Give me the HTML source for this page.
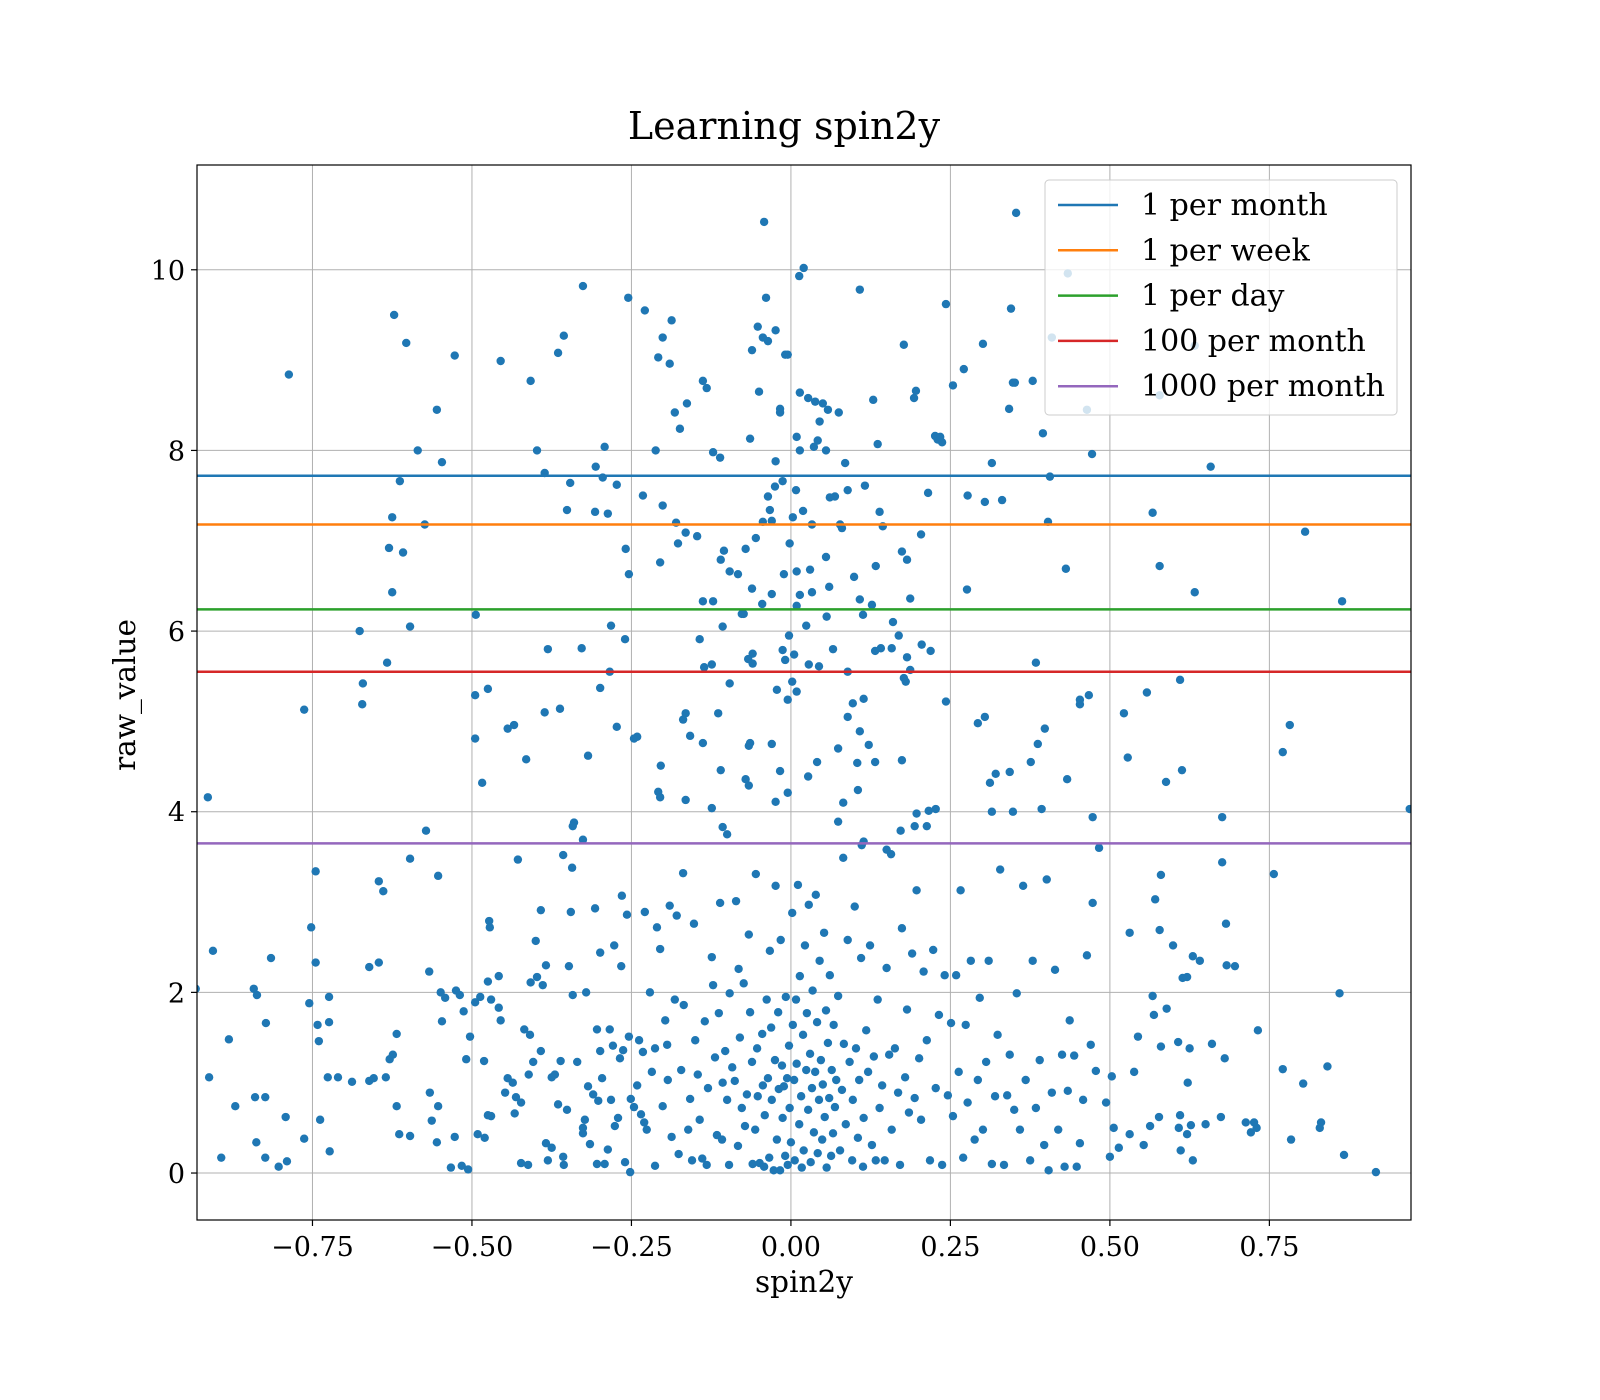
<!DOCTYPE html>
<html><head><meta charset="utf-8"><style>
html,body{margin:0;padding:0;background:#fff;}
svg{display:block;font-family:"DejaVu Serif","Liberation Serif",serif;}
</style></head><body>
<svg id="chart" width="1600" height="1400" viewBox="0 0 1600 1400" xmlns="http://www.w3.org/2000/svg">
<rect width="1600" height="1400" fill="#fff"/>
<text x="784" y="139" font-size="38" text-anchor="middle">Learning spin2y</text>
<g id="grid"></g>
<g id="points"></g>
<g id="hlines"></g>
<rect x="197" y="165" width="1214" height="1055" fill="none" stroke="#000" stroke-width="1.2"/>
<g id="ticks"></g>
<text x="804" y="1292" font-size="29.5" text-anchor="middle">spin2y</text>
<text transform="translate(135,695) rotate(-90)" font-size="29.5" text-anchor="middle">raw_value</text>
<g id="legend"></g>
</svg>
<script>
const xTicks=[-0.75,-0.5,-0.25,0,0.25,0.5,0.75];
const xTickLabels=["\u22120.75","\u22120.50","\u22120.25","0.00","0.25","0.50","0.75"];
const yTicks=[0,2,4,6,8,10];
const yTickLabels=["0","2","4","6","8","10"];
const lineNames=["1 per month","1 per week","1 per day","100 per month","1000 per month"];
const lineValues=[7.72,7.18,6.24,5.55,3.65];
const lineColors=["#1f77b4","#ff7f0e","#2ca02c","#d62728","#9467bd"];
const xVals=[-0.787,-0.914,-0.622,-0.603,-0.527,-0.555,-0.585,-0.547,-0.613,-0.625,-0.574,-0.630,-0.608,-0.625,-0.597,-0.676,-0.633,-0.671,-0.672,-0.763,-0.326,-0.255,-0.229,-0.455,-0.408,-0.356,-0.365,-0.398,-0.386,-0.346,-0.351,-0.494,-0.381,-0.328,-0.284,-0.260,-0.495,-0.475,-0.386,-0.362,-0.444,-0.434,-0.495,-0.415,-0.484,-0.318,-0.340,-0.342,-0.326,-0.306,-0.292,-0.295,-0.273,-0.307,-0.287,-0.259,-0.282,-0.299,-0.254,-0.241,-0.246,-0.273,-0.201,-0.187,-0.208,-0.190,-0.212,-0.232,-0.201,-0.180,-0.177,-0.205,-0.165,-0.174,-0.182,-0.163,-0.138,-0.132,-0.122,-0.111,-0.147,-0.110,-0.105,-0.096,-0.083,-0.071,-0.074,-0.107,-0.122,-0.138,-0.143,-0.136,-0.124,-0.096,-0.114,-0.165,-0.169,-0.158,-0.138,-0.204,-0.208,-0.205,-0.165,-0.124,-0.110,-0.107,-0.100,-0.066,-0.071,-0.066,-0.064,-0.030,-0.017,-0.024,-0.005,-0.060,-0.060,-0.067,-0.013,-0.003,-0.009,0.005,0.002,-0.005,-0.022,0.009,-0.061,-0.077,-0.045,-0.030,-0.011,0.009,0.014,0.009,0.030,0.033,0.024,-0.055,-0.044,-0.030,-0.033,-0.036,-0.025,-0.013,-0.024,0.003,0.008,-0.002,0.019,0.033,-0.064,-0.050,-0.052,-0.044,-0.036,-0.061,-0.024,-0.009,-0.005,-0.039,-0.042,-0.017,-0.017,0.014,0.027,0.038,0.050,0.058,0.075,0.045,0.042,0.009,0.014,0.036,0.055,0.085,0.069,0.061,0.089,0.080,0.077,0.055,0.060,0.056,0.099,0.108,0.127,0.113,0.116,0.139,0.144,0.129,0.136,0.108,0.013,0.020,0.044,0.028,0.089,0.066,0.089,0.097,0.114,0.108,0.104,0.122,0.132,0.074,0.041,0.027,0.082,0.105,0.111,0.114,0.074,0.133,0.141,0.132,0.160,0.169,0.158,0.182,0.187,0.177,0.180,0.205,0.219,0.174,0.150,0.157,0.172,0.194,0.213,0.216,0.227,0.197,0.174,0.182,0.204,0.215,0.187,0.177,0.193,0.196,0.226,0.230,0.237,0.234,0.243,0.254,0.271,0.301,0.315,0.277,0.304,0.331,0.276,0.243,0.304,0.293,0.312,0.321,0.343,0.315,0.348,0.342,0.345,0.351,0.348,0.353,0.379,0.395,0.409,0.406,0.403,0.431,0.384,0.398,0.387,0.376,0.433,0.393,0.453,0.453,0.467,0.464,0.434,0.472,0.473,0.522,0.528,0.558,0.567,0.578,0.578,0.588,0.613,0.610,0.633,0.633,0.658,0.676,0.771,0.782,0.806,0.864,0.970,0.757,
-0.933,-0.906,-0.912,-0.893,-0.881,-0.871,-0.842,-0.837,-0.823,-0.815,-0.840,-0.824,-0.838,-0.824,-0.803,-0.790,-0.792,-0.763,-0.755,-0.752,-0.745,-0.745,-0.742,-0.740,-0.738,-0.724,-0.724,-0.726,-0.723,-0.710,-0.688,-0.661,-0.654,-0.661,-0.646,-0.646,-0.639,-0.635,-0.629,-0.624,-0.618,-0.618,-0.614,-0.597,-0.597,-0.567,-0.566,-0.563,-0.572,-0.553,-0.553,-0.549,-0.547,-0.542,-0.555,-0.533,-0.527,-0.525,-0.519,-0.516,-0.506,-0.513,-0.509,-0.503,-0.495,-0.491,-0.487,-0.481,-0.480,-0.473,-0.472,-0.475,-0.470,-0.470,-0.475,-0.458,-0.458,-0.455,-0.448,-0.444,-0.436,-0.431,-0.428,-0.423,-0.433,-0.423,-0.418,-0.411,-0.409,-0.412,-0.408,-0.404,-0.400,-0.398,-0.392,-0.392,-0.389,-0.384,-0.384,-0.381,-0.375,-0.375,-0.370,-0.365,-0.361,-0.357,-0.357,-0.356,-0.351,-0.348,-0.345,-0.343,-0.342,-0.335,-0.326,-0.326,-0.323,-0.321,-0.318,-0.315,-0.310,-0.307,-0.304,-0.304,-0.302,-0.299,-0.296,-0.299,-0.292,-0.287,-0.284,-0.282,-0.279,-0.277,-0.276,-0.271,-0.268,-0.265,-0.266,-0.263,-0.260,-0.257,-0.254,-0.252,-0.251,-0.246,-0.241,-0.238,-0.235,-0.232,-0.230,-0.229,-0.226,-0.221,-0.218,-0.213,-0.213,-0.210,-0.205,-0.201,-0.197,-0.194,-0.193,-0.190,-0.187,-0.182,-0.179,-0.176,-0.172,-0.169,-0.168,-0.161,-0.158,-0.155,-0.152,-0.150,-0.146,-0.143,-0.139,-0.135,-0.132,-0.130,-0.124,-0.122,-0.119,-0.116,-0.113,-0.111,-0.108,-0.107,-0.103,-0.100,-0.097,-0.096,-0.092,-0.088,-0.086,-0.083,-0.082,-0.080,-0.077,-0.074,-0.072,-0.069,-0.066,-0.064,-0.061,-0.060,-0.056,-0.055,-0.053,-0.052,-0.049,-0.045,-0.044,-0.042,-0.041,-0.038,-0.036,-0.034,-0.033,-0.031,-0.030,-0.027,-0.025,-0.024,-0.022,-0.020,-0.019,-0.017,-0.016,-0.014,-0.013,-0.011,-0.009,-0.008,-0.006,-0.005,-0.003,-0.002,0,0.002,0.003,0.005,0.006,0.008,0.009,0.011,0.013,0.014,0.016,0.017,0.019,0.020,0.022,0.024,0.025,0.027,0.028,0.030,0.031,0.033,0.034,0.036,0.038,0.039,0.041,0.042,0.044,0.045,0.047,0.049,0.050,0.052,0.053,0.055,0.056,0.058,0.060,0.061,0.063,0.064,0.066,0.067,0.069,0.071,0.074,0.077,0.080,0.082,0.083,0.086,0.089,0.092,0.096,0.097,0.100,0.102,0.105,0.107,0.110,0.113,0.114,0.118,0.121,0.124,0.127,0.130,0.133,0.136,0.139,0.143,0.147,0.150,0.154,0.158,0.163,0.168,0.171,0.174,0.179,0.182,0.185,0.190,0.194,0.197,0.201,0.204,0.208,0.213,0.218,0.223,0.227,0.232,0.237,0.241,0.246,0.251,0.254,0.259,0.263,0.266,0.270,0.274,0.277,0.282,0.288,0.293,0.296,0.301,0.306,0.310,0.315,0.320,0.324,0.328,0.334,0.339,0.343,0.350,0.354,0.359,0.364,0.368,0.375,0.379,0.384,0.390,0.397,0.401,0.404,0.409,0.414,0.419,0.425,0.429,0.434,0.437,0.444,0.448,0.453,0.458,0.464,0.470,0.473,0.478,0.483,0.494,0.500,0.503,0.506,0.514,0.531,0.531,0.538,0.544,0.553,0.563,0.567,0.569,0.571,0.577,0.578,0.580,0.580,0.589,0.599,0.607,0.608,0.610,0.611,0.614,0.621,0.621,0.622,0.625,0.627,0.630,0.630,0.641,0.650,0.660,0.674,0.680,0.683,0.676,0.682,0.696,0.713,0.721,0.726,0.730,0.732,0.771,0.784,0.803,0.831,0.829,0.841,0.860,0.867,0.917];
const yVals=[8.84,4.16,9.50,9.19,9.05,8.45,8.0,7.87,7.66,7.26,7.18,6.92,6.87,6.43,6.05,6.0,5.65,5.42,5.19,5.13,9.82,9.69,9.55,8.99,8.77,9.27,9.08,8.0,7.75,7.64,7.34,6.18,5.80,5.81,5.55,5.91,5.29,5.36,5.10,5.14,4.92,4.96,4.81,4.58,4.32,4.62,3.88,3.84,3.69,7.82,8.04,7.70,7.62,7.32,7.30,6.91,6.06,5.37,6.63,4.83,4.81,4.94,9.25,9.44,9.03,8.96,8.0,7.50,7.39,7.20,6.97,6.76,7.09,8.24,8.42,8.52,8.77,8.69,7.98,7.92,7.05,6.79,6.89,6.66,6.63,6.91,6.19,6.05,6.33,6.33,5.91,5.60,5.63,5.42,5.09,5.09,5.02,4.84,4.76,4.51,4.22,4.16,4.13,4.04,4.46,3.83,3.75,4.29,4.36,4.73,4.76,4.75,4.45,4.11,4.21,5.64,5.75,5.69,5.79,5.95,5.68,5.74,5.44,5.24,5.35,5.33,6.47,6.19,6.30,6.41,6.63,6.28,6.40,6.66,6.68,6.43,6.06,7.03,7.21,7.22,7.34,7.49,7.60,7.66,7.88,7.26,7.56,6.97,7.33,7.18,8.13,8.65,9.37,9.25,9.21,9.11,9.33,9.06,9.06,9.69,10.53,8.46,8.42,8.64,8.58,8.54,8.52,8.45,8.42,8.32,8.11,8.15,8.0,8.04,8.0,7.86,7.49,7.48,7.56,7.14,7.18,6.82,6.49,6.16,6.60,6.35,6.29,6.18,7.61,7.32,7.16,8.56,8.07,9.78,9.93,10.02,5.61,5.63,5.55,5.80,5.05,5.20,5.25,4.89,4.54,4.74,4.55,4.70,4.55,4.39,4.10,4.24,3.63,3.67,3.89,6.72,5.81,5.78,6.10,5.95,5.81,5.71,5.57,5.48,5.44,5.85,5.78,4.57,3.58,3.53,3.79,3.84,3.84,4.01,4.03,3.98,6.88,6.79,7.07,7.53,6.36,9.17,8.58,8.66,8.16,8.12,8.09,8.15,9.62,8.72,8.90,9.18,7.86,7.50,7.43,7.45,6.46,5.22,5.05,4.98,4.32,4.42,4.44,4.0,4.0,8.46,9.57,8.75,8.75,10.63,8.77,8.19,9.25,7.71,7.21,6.69,5.65,4.92,4.75,4.55,4.36,4.03,5.19,5.24,5.29,8.45,9.96,7.96,3.94,5.09,4.60,5.32,7.31,6.72,8.61,4.33,4.46,5.46,6.43,9.16,7.82,3.94,4.66,4.96,7.10,6.33,4.03,3.31,
2.04,2.46,1.06,0.17,1.48,0.74,2.04,1.97,1.66,2.38,0.84,0.84,0.34,0.17,0.07,0.13,0.62,0.38,1.88,2.72,3.34,2.33,1.64,1.46,0.59,1.95,1.67,1.06,0.24,1.06,1.01,1.02,1.05,2.28,2.33,3.23,3.12,1.06,1.26,1.31,1.54,0.74,0.43,3.48,0.41,2.23,0.89,0.58,3.79,0.74,3.29,2.0,1.68,1.94,0.34,0.06,0.40,2.02,1.97,0.08,0.04,1.79,1.26,1.51,1.89,0.43,1.95,1.24,0.39,2.79,2.72,2.12,1.92,0.63,0.64,2.18,1.83,1.69,0.89,1.05,1.0,0.84,3.47,0.78,0.66,0.11,1.59,1.09,1.53,0.09,2.11,1.23,2.57,2.17,2.91,1.35,2.08,2.30,0.33,0.14,0.28,1.06,1.09,0.76,1.24,3.52,0.18,0.09,0.70,2.29,2.89,3.38,1.97,1.23,0.50,0.44,0.59,2.0,0.96,0.32,0.87,2.93,1.59,0.10,0.80,1.35,1.05,2.44,0.10,0.26,1.59,0.81,1.41,2.52,0.52,0.61,1.27,3.07,2.29,1.36,0.12,2.86,1.51,0.01,0.82,0.73,0.97,1.47,0.65,1.34,0.56,2.89,0.48,2.0,1.12,1.38,0.08,2.72,2.48,0.74,1.69,1.42,1.03,2.96,0.40,1.92,2.85,0.21,1.14,3.32,1.86,0.48,0.82,0.14,2.76,1.47,1.09,0.59,0.16,1.68,0.09,0.94,2.39,2.08,1.28,0.42,1.77,2.99,0.37,1.0,1.35,0.81,0.09,1.99,1.17,1.02,3.01,0.30,2.26,1.50,0.72,2.10,0.52,0.87,2.64,1.78,1.23,0.10,0.48,3.31,1.38,0.85,0.11,1.54,0.97,0.07,0.64,1.92,1.05,0.17,2.46,1.61,0.81,0.03,1.25,3.18,0.37,1.78,0.93,0.03,2.58,1.19,0.61,0.96,0.19,1.95,1.05,0.09,1.41,0.72,0.34,2.88,1.64,1.03,0.14,1.92,1.21,3.19,0.54,2.18,0.85,0.06,1.53,0.25,2.52,1.14,1.77,0.70,2.97,1.32,0.12,0.94,2.02,0.45,1.12,3.08,1.67,0.22,0.81,2.35,1.25,0.37,0.98,2.66,0.62,1.80,0.06,1.44,0.83,2.19,0.19,1.14,0.44,1.64,0.73,1.03,1.96,0.25,0.92,3.49,1.43,0.54,2.58,1.23,0.14,0.81,2.95,1.38,0.39,1.03,2.38,0.07,0.61,1.58,1.12,2.52,0.31,1.29,0.14,1.92,0.72,0.97,0.14,2.27,1.31,0.48,1.38,0.89,0.09,2.71,1.06,1.81,0.67,2.43,0.83,3.13,1.27,0.59,2.23,1.47,0.14,2.47,0.94,1.75,0.09,2.19,0.86,1.66,0.63,2.19,1.12,3.13,0.17,1.64,0.78,2.35,0.37,1.03,1.94,0.48,1.23,2.35,0.10,0.85,1.53,3.36,0.09,0.86,1.31,0.70,1.99,0.48,3.18,1.03,0.14,2.35,0.72,1.25,0.31,3.25,0.03,0.89,2.25,0.48,1.31,0.07,0.91,1.69,1.30,0.07,0.33,0.81,2.41,1.42,2.99,1.13,3.60,0.78,0.18,1.07,0.50,0.28,0.43,2.66,1.12,1.51,0.31,0.52,1.96,1.75,3.03,0.62,2.69,1.40,3.30,1.82,2.52,1.45,0.50,0.64,0.25,2.16,2.17,0.43,1.0,1.38,0.53,0.14,2.40,2.35,0.54,1.43,0.62,1.27,2.30,3.44,2.76,2.29,0.56,0.45,0.56,0.50,1.58,1.15,0.37,0.99,0.56,0.50,1.18,1.99,0.20,0.01];

const NS="http://www.w3.org/2000/svg";
const L=197,R=1411,T=165,B=1220;
const xMin=-0.931,xMax=0.972,yMin=-0.52,yMax=11.16;
function sx(v){return L+(v-xMin)/(xMax-xMin)*(R-L);}
function sy(v){return B-(v-yMin)/(yMax-yMin)*(B-T);}
function mk(tag,attrs,parent){const e=document.createElementNS(NS,tag);for(const k in attrs)e.setAttribute(k,attrs[k]);parent.appendChild(e);return e;}

const grid=document.getElementById('grid'),ticks=document.getElementById('ticks');
xTicks.forEach((v,i)=>{
  const x=sx(v);
  const g=mk('line',{x1:x,x2:x,y1:T,y2:B,stroke:'#b0b0b0','stroke-width':1},grid);
  
  
  const t=mk('line',{x1:x,x2:x,y1:B,y2:B+6,stroke:'#000','stroke-width':1.2},ticks);
  
  
  const lb=mk('text',{x:x,y:B+36,'font-size':27,'text-anchor':'middle'},ticks);
  lb.textContent=xTickLabels[i];
  
  
});
yTicks.forEach((v,i)=>{
  const y=sy(v);
  const g=mk('line',{x1:L,x2:R,y1:y,y2:y,stroke:'#b0b0b0','stroke-width':1},grid);
  
  
  const t=mk('line',{x1:L-6,x2:L,y1:y,y2:y,stroke:'#000','stroke-width':1.2},ticks);
  
  
  const lb=mk('text',{x:L-12,y:y+10,'font-size':27,'text-anchor':'end'},ticks);
  lb.textContent=yTickLabels[i];
  
  
});

const pts=document.getElementById('points');
const svg=document.getElementById('chart');
const defs=mk('defs',{},svg);
const cp=mk('clipPath',{id:'plotclip'},defs);
mk('rect',{x:L,y:T,width:R-L,height:B-T},cp);
pts.setAttribute('clip-path','url(#plotclip)');
const n=Math.min(xVals.length,yVals.length);
for(let i=0;i<n;i++){
  const c=mk('circle',{cx:sx(xVals[i]),cy:sy(yVals[i]),r:4.2,fill:'#1f77b4'},pts);
  
  
}

const hl=document.getElementById('hlines');
lineValues.forEach((v,i)=>{
  const l=mk('line',{x1:L,x2:R,y1:sy(v),y2:sy(v),stroke:lineColors[i],'stroke-width':2.5},hl);
  
  
});

const lg=document.getElementById('legend');
const box=mk('rect',{x:1045,y:180,width:352,height:235,rx:4,fill:'#fff','fill-opacity':0.8,stroke:'#ccc','stroke-width':1},lg);


lineNames.forEach((name,i)=>{
  const y=205+i*45.3;
  const l=mk('line',{x1:1058,x2:1118,y1:y,y2:y,stroke:lineColors[i],'stroke-width':2.5},lg);
  
  
  const t=mk('text',{x:1141,y:y+10,'font-size':30},lg);
  t.textContent=name;
  
  
});
</script>
</body></html>
